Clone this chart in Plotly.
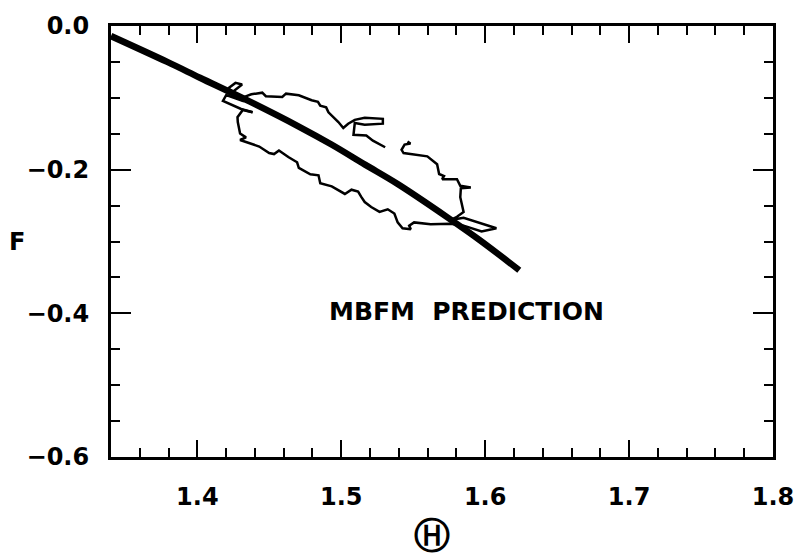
import plotly.graph_objects as go

# MBFM prediction (thick line)
pred_x = [1.3400, 1.3791, 1.4018, 1.4362, 1.4705, 1.4932, 1.5165, 1.5392, 1.5735, 1.5962, 1.6237]
pred_f = [-0.0140, -0.0500, -0.0720, -0.1050, -0.1400, -0.1650, -0.1930, -0.2200, -0.2660, -0.2980, -0.3400]

# Measured trajectory (thin loop); None marks a gap in the trace
loop_x = [1.4384, 1.4304, 1.4178, 1.4201, 1.4316, 1.4327, 1.4375, 1.4451, 1.4476, 1.4590,
          1.4616, 1.4705, 1.4794, 1.4838, 1.4854, 1.4895, 1.4911, 1.4980, 1.5014, 1.5048,
          1.5094, 1.5163, 1.5289, 1.5289, 1.5163, 1.5094, 1.5085, 1.5174, 1.5220, 1.5266,
          1.5305, None,
          1.5460, 1.5481, 1.5440, 1.5419, 1.5433, 1.5598, 1.5666, 1.5680, 1.5714, 1.5701,
          1.5804, 1.5827, 1.5900, 1.5831, 1.5827, 1.5838, 1.5850, 1.5804, 1.5758, 1.5850,
          1.5941, 1.6078, 1.5975, 1.5850, 1.5758, 1.5621, 1.5506, 1.5472, 1.5483, 1.5426,
          1.5392, 1.5369, 1.5323, 1.5266, 1.5208, 1.5163, 1.5140, 1.5117, 1.5071, 1.5025,
          1.4934, 1.4854, 1.4842, 1.4785, 1.4705, 1.4693, 1.4632, 1.4567, 1.4533, 1.4499,
          1.4430, 1.4361, 1.4297, 1.4338, 1.4297, 1.4281, 1.4279, 1.4316, 1.4384, None,
          1.4213, 1.4265, 1.4311, 1.4247, 1.4213]
loop_f = [-0.1201, -0.1155, -0.1042, -0.0960, -0.1042, -0.0987, -0.0951, -0.0928, -0.0978, -0.0987,
          -0.0942, -0.0964, -0.1033, -0.1055, -0.1110, -0.1133, -0.1201, -0.1337, -0.1419, -0.1360,
          -0.1306, -0.1278, -0.1292, -0.1360, -0.1374, -0.1351, -0.1515, -0.1524, -0.1597, -0.1642,
          -0.1688, None,
          -0.1610, -0.1637, -0.1651, -0.1724, -0.1769, -0.1815, -0.1924, -0.2060, -0.2088, -0.2133,
          -0.2133, -0.2224, -0.2247, -0.2260, -0.2383, -0.2497, -0.2588, -0.2656, -0.2702, -0.2670,
          -0.2724, -0.2815, -0.2861, -0.2779, -0.2752, -0.2761, -0.2734, -0.2779, -0.2829, -0.2815,
          -0.2734, -0.2611, -0.2552, -0.2588, -0.2520, -0.2451, -0.2383, -0.2306, -0.2279, -0.2338,
          -0.2233, -0.2188, -0.2079, -0.2065, -0.1974, -0.1897, -0.1824, -0.1733, -0.1783, -0.1769,
          -0.1678, -0.1633, -0.1587, -0.1551, -0.1496, -0.1337, -0.1269, -0.1169, -0.1201, None,
          -0.0869, -0.0792, -0.0814, -0.0914, -0.0869]

x_ticks = [1.4, 1.5, 1.6, 1.7, 1.8]
x_labels = ["1.4", "1.5", "1.6", "1.7", "1.8"]
y_ticks = [0.0, -0.2, -0.4, -0.6]
y_labels = ["0.0", "\u22120.2", "\u22120.4", "\u22120.6"]

FONT = "DejaVu Sans"

fig = go.Figure()
fig.add_trace(go.Scatter(x=loop_x, y=loop_f, mode="lines",
                         line=dict(color="black", width=2.5), connectgaps=False,
                         showlegend=False, hoverinfo="skip"))
fig.add_trace(go.Scatter(x=pred_x, y=pred_f, mode="lines",
                         line=dict(color="black", width=6.5, shape="spline", smoothing=1.0),
                         showlegend=False, hoverinfo="skip"))

axis_common = dict(showgrid=False, zeroline=False, showline=True, linecolor="black",
                   linewidth=3, mirror="ticks", ticks="inside", tickcolor="black",
                   tickwidth=2,
                   tickfont=dict(family=FONT, size=24, color="black", weight="bold"))

fig.update_xaxes(range=[1.34, 1.8], tickvals=x_ticks, ticktext=x_labels, ticklen=17,
                 ticklabelstandoff=16,
                 minor=dict(dtick=0.02, tick0=1.34, ticks="inside", ticklen=9,
                            tickcolor="black", tickwidth=2),
                 **axis_common)
fig.update_yaxes(range=[-0.6, 0.0], tickvals=y_ticks, ticktext=y_labels, ticklen=20,
                 ticklabelstandoff=14,
                 minor=dict(dtick=0.05, tick0=0, ticks="inside", ticklen=9,
                            tickcolor="black", tickwidth=2),
                 **axis_common)

fig.add_annotation(text="MBFM  PREDICTION", x=1.587, y=-0.398, xref="x", yref="y",
                   showarrow=False,
                   font=dict(family=FONT, size=25, color="black", weight="bold"))
fig.add_annotation(text="F", xref="paper", yref="paper", x=-0.142, y=0.5,
                   xanchor="center", yanchor="middle", showarrow=False,
                   font=dict(family=FONT, size=24, color="black", weight="bold"))
fig.add_annotation(text="\u24BD", xref="paper", yref="paper", x=0.485, y=-0.182,
                   xanchor="center", yanchor="middle", showarrow=False,
                   font=dict(family=FONT, size=36, color="black", weight="bold"))

fig.update_layout(width=806, height=557, margin=dict(l=111, r=26, t=17, b=100),
                  paper_bgcolor="white", plot_bgcolor="white")

fig.write_html("out.html")
